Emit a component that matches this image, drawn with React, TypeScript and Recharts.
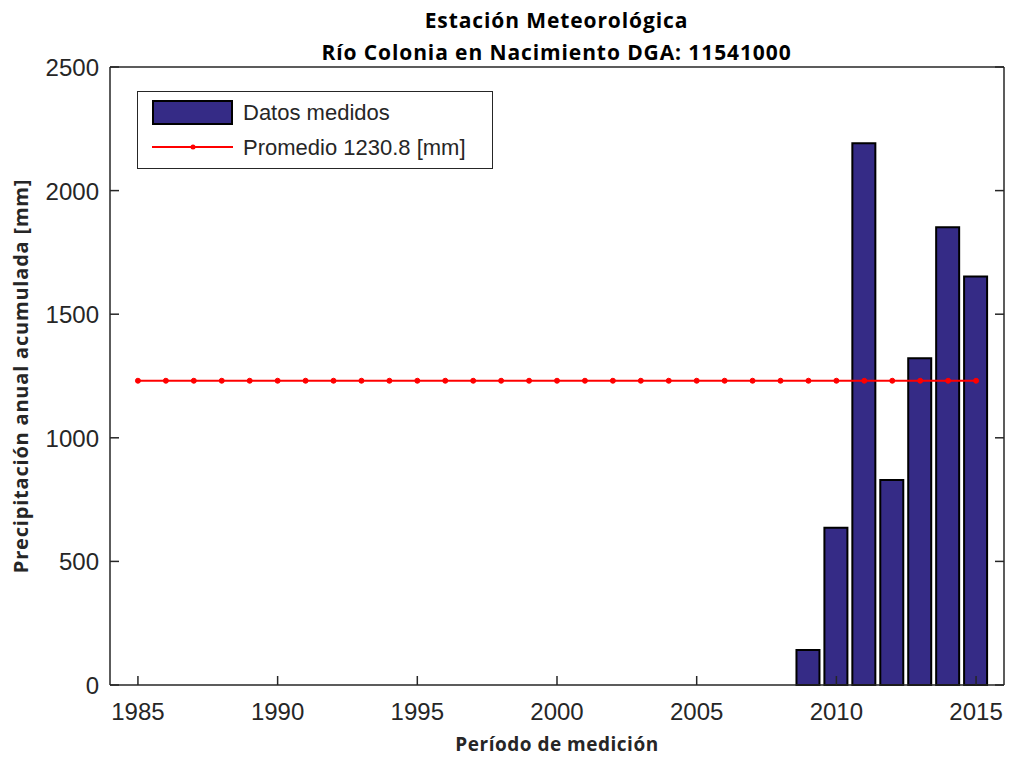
import React from 'react';
import { ComposedChart, Bar, Line, XAxis, YAxis, Label } from 'recharts';

const years = [
  1985, 1986, 1987, 1988, 1989, 1990, 1991, 1992, 1993, 1994, 1995, 1996, 1997, 1998, 1999, 2000,
  2001, 2002, 2003, 2004, 2005, 2006, 2007, 2008, 2009, 2010, 2011, 2012, 2013, 2014, 2015,
];
const measured = [
  null, null, null, null, null, null, null, null, null, null, null, null, null, null, null, null,
  null, null, null, null, null, null, null, null, 142, 636, 2192, 829, 1322, 1852, 1653,
];
const average = 1230.8;
const yearTicks = [1985, 1990, 1995, 2000, 2005, 2010, 2015];
const precipTicks = [0, 500, 1000, 1500, 2000, 2500];

const data = years.map((year, i) => ({ year, measured: measured[i], avg: average }));

const axisColor = '#262626';
const tickFontFamily = 'Liberation Sans, Arial, sans-serif';
const boldFont = 'Open Sans, sans-serif';
const barFill = '#352b86';
const tickLen = 9;

// ticks drawn inward, labels outside (MATLAB style)
const BottomTick = ({ x, y, payload }: any) => (
  <g>
    <line x1={x} y1={y} x2={x} y2={y - tickLen} stroke={axisColor} strokeWidth={1.5} />
    <text x={x} y={y + 35} textAnchor="middle" fontFamily={tickFontFamily} fontSize={24} fill={axisColor}>
      {payload.value}
    </text>
  </g>
);

const LeftTick = ({ x, y, payload }: any) => (
  <g>
    <line x1={x} y1={y} x2={x + tickLen} y2={y} stroke={axisColor} strokeWidth={1.5} />
    <text x={x - 11} y={y + 9} textAnchor="end" fontFamily={tickFontFamily} fontSize={24} fill={axisColor}>
      {payload.value}
    </text>
  </g>
);

const App = () => {
  return (
    <div style={{ position: 'absolute', left: 0, top: 0, width: 1010, height: 758, background: '#fff' }}>
      <div
        style={{
          position: 'absolute', left: 110, width: 893, top: 4, textAlign: 'center',
          fontFamily: boldFont, fontWeight: 700, fontSize: 21, letterSpacing: 0.9, lineHeight: '32px', color: '#000',
        }}
      >
        <div>Estación Meteorológica</div>
        <div>Río Colonia en Nacimiento DGA: 11541000</div>
      </div>

      <ComposedChart width={1010} height={758} data={data} margin={{ top: 67, right: 6, bottom: 0, left: 0 }}>
        <XAxis
          dataKey="year"
          type="number"
          domain={[1984, 2016]}
          ticks={yearTicks}
          height={73}
          tickSize={0}
          tickMargin={0}
          tickLine={false}
          tick={<BottomTick />}
          stroke={axisColor}
          strokeWidth={1.5}
        >
          <Label
            value="Período de medición"
            position="insideBottom"
            offset={7}
            style={{ fontFamily: boldFont, fontWeight: 700, fontSize: 19, letterSpacing: 0.5, fill: axisColor }}
          />
        </XAxis>
        <XAxis
          xAxisId="top"
          orientation="top"
          type="number"
          domain={[1984, 2016]}
          ticks={yearTicks}
          height={1}
          mirror
          tickSize={tickLen}
          tickFormatter={() => ''}
          stroke={axisColor}
          strokeWidth={1.5}
          tickLine={{ stroke: axisColor, strokeWidth: 1.5 }}
        />
        <YAxis
          type="number"
          domain={[0, 2500]}
          ticks={precipTicks}
          width={110}
          tickSize={0}
          tickMargin={0}
          tickLine={false}
          tick={<LeftTick />}
          stroke={axisColor}
          strokeWidth={1.5}
        >
          <Label
            content={({ viewBox }: any) => (
              <text
                x={viewBox.x + 20}
                y={viewBox.y + viewBox.height / 2}
                transform={`rotate(-90, ${viewBox.x + 20}, ${viewBox.y + viewBox.height / 2})`}
                textAnchor="middle"
                dominantBaseline="central"
                style={{ fontFamily: boldFont, fontWeight: 700, fontSize: 20, letterSpacing: 0.8, fill: axisColor }}
              >
                Precipitación anual acumulada [mm]
              </text>
            )}
          />
        </YAxis>
        <YAxis
          yAxisId="right"
          orientation="right"
          type="number"
          domain={[0, 2500]}
          ticks={precipTicks}
          width={1}
          mirror
          tickSize={tickLen}
          tickFormatter={() => ''}
          stroke={axisColor}
          strokeWidth={1.5}
          tickLine={{ stroke: axisColor, strokeWidth: 1.5 }}
        />
        <Bar
          dataKey="measured"
          barSize={23}
          fill={barFill}
          stroke="#000"
          strokeWidth={2}
          isAnimationActive={false}
        />
        <Line
          dataKey="avg"
          stroke="#ff0000"
          strokeWidth={2}
          dot={{ r: 2.5, fill: '#ff0000', stroke: '#ff0000', strokeWidth: 1 }}
          isAnimationActive={false}
        />
        {/* invisible series so the top/right frame axes get a domain */}
        <Line
          xAxisId="top"
          yAxisId="right"
          dataKey="avg"
          stroke="none"
          dot={false}
          activeDot={false}
          legendType="none"
          isAnimationActive={false}
        />
      </ComposedChart>

      <div
        style={{
          position: 'absolute', left: 137, top: 91, width: 356, height: 78,
          border: '1.5px solid #262626', background: '#fff', boxSizing: 'border-box',
          fontFamily: tickFontFamily, fontSize: 22, color: '#262626',
        }}
      >
        <div style={{ position: 'absolute', left: 14, top: 8, width: 81, height: 25, background: barFill, border: '2px solid #000', boxSizing: 'border-box' }} />
        <div style={{ position: 'absolute', left: 105, top: 8, lineHeight: '26px' }}>Datos medidos</div>
        <svg style={{ position: 'absolute', left: 14, top: 49 }} width={81} height={12}>
          <line x1={0} y1={6} x2={81} y2={6} stroke="#ff0000" strokeWidth={2} />
          <circle cx={41} cy={6} r={2.5} fill="#ff0000" />
        </svg>
        <div style={{ position: 'absolute', left: 105, top: 43, lineHeight: '26px' }}>Promedio 1230.8 [mm]</div>
      </div>
    </div>
  );
};

export default App;
